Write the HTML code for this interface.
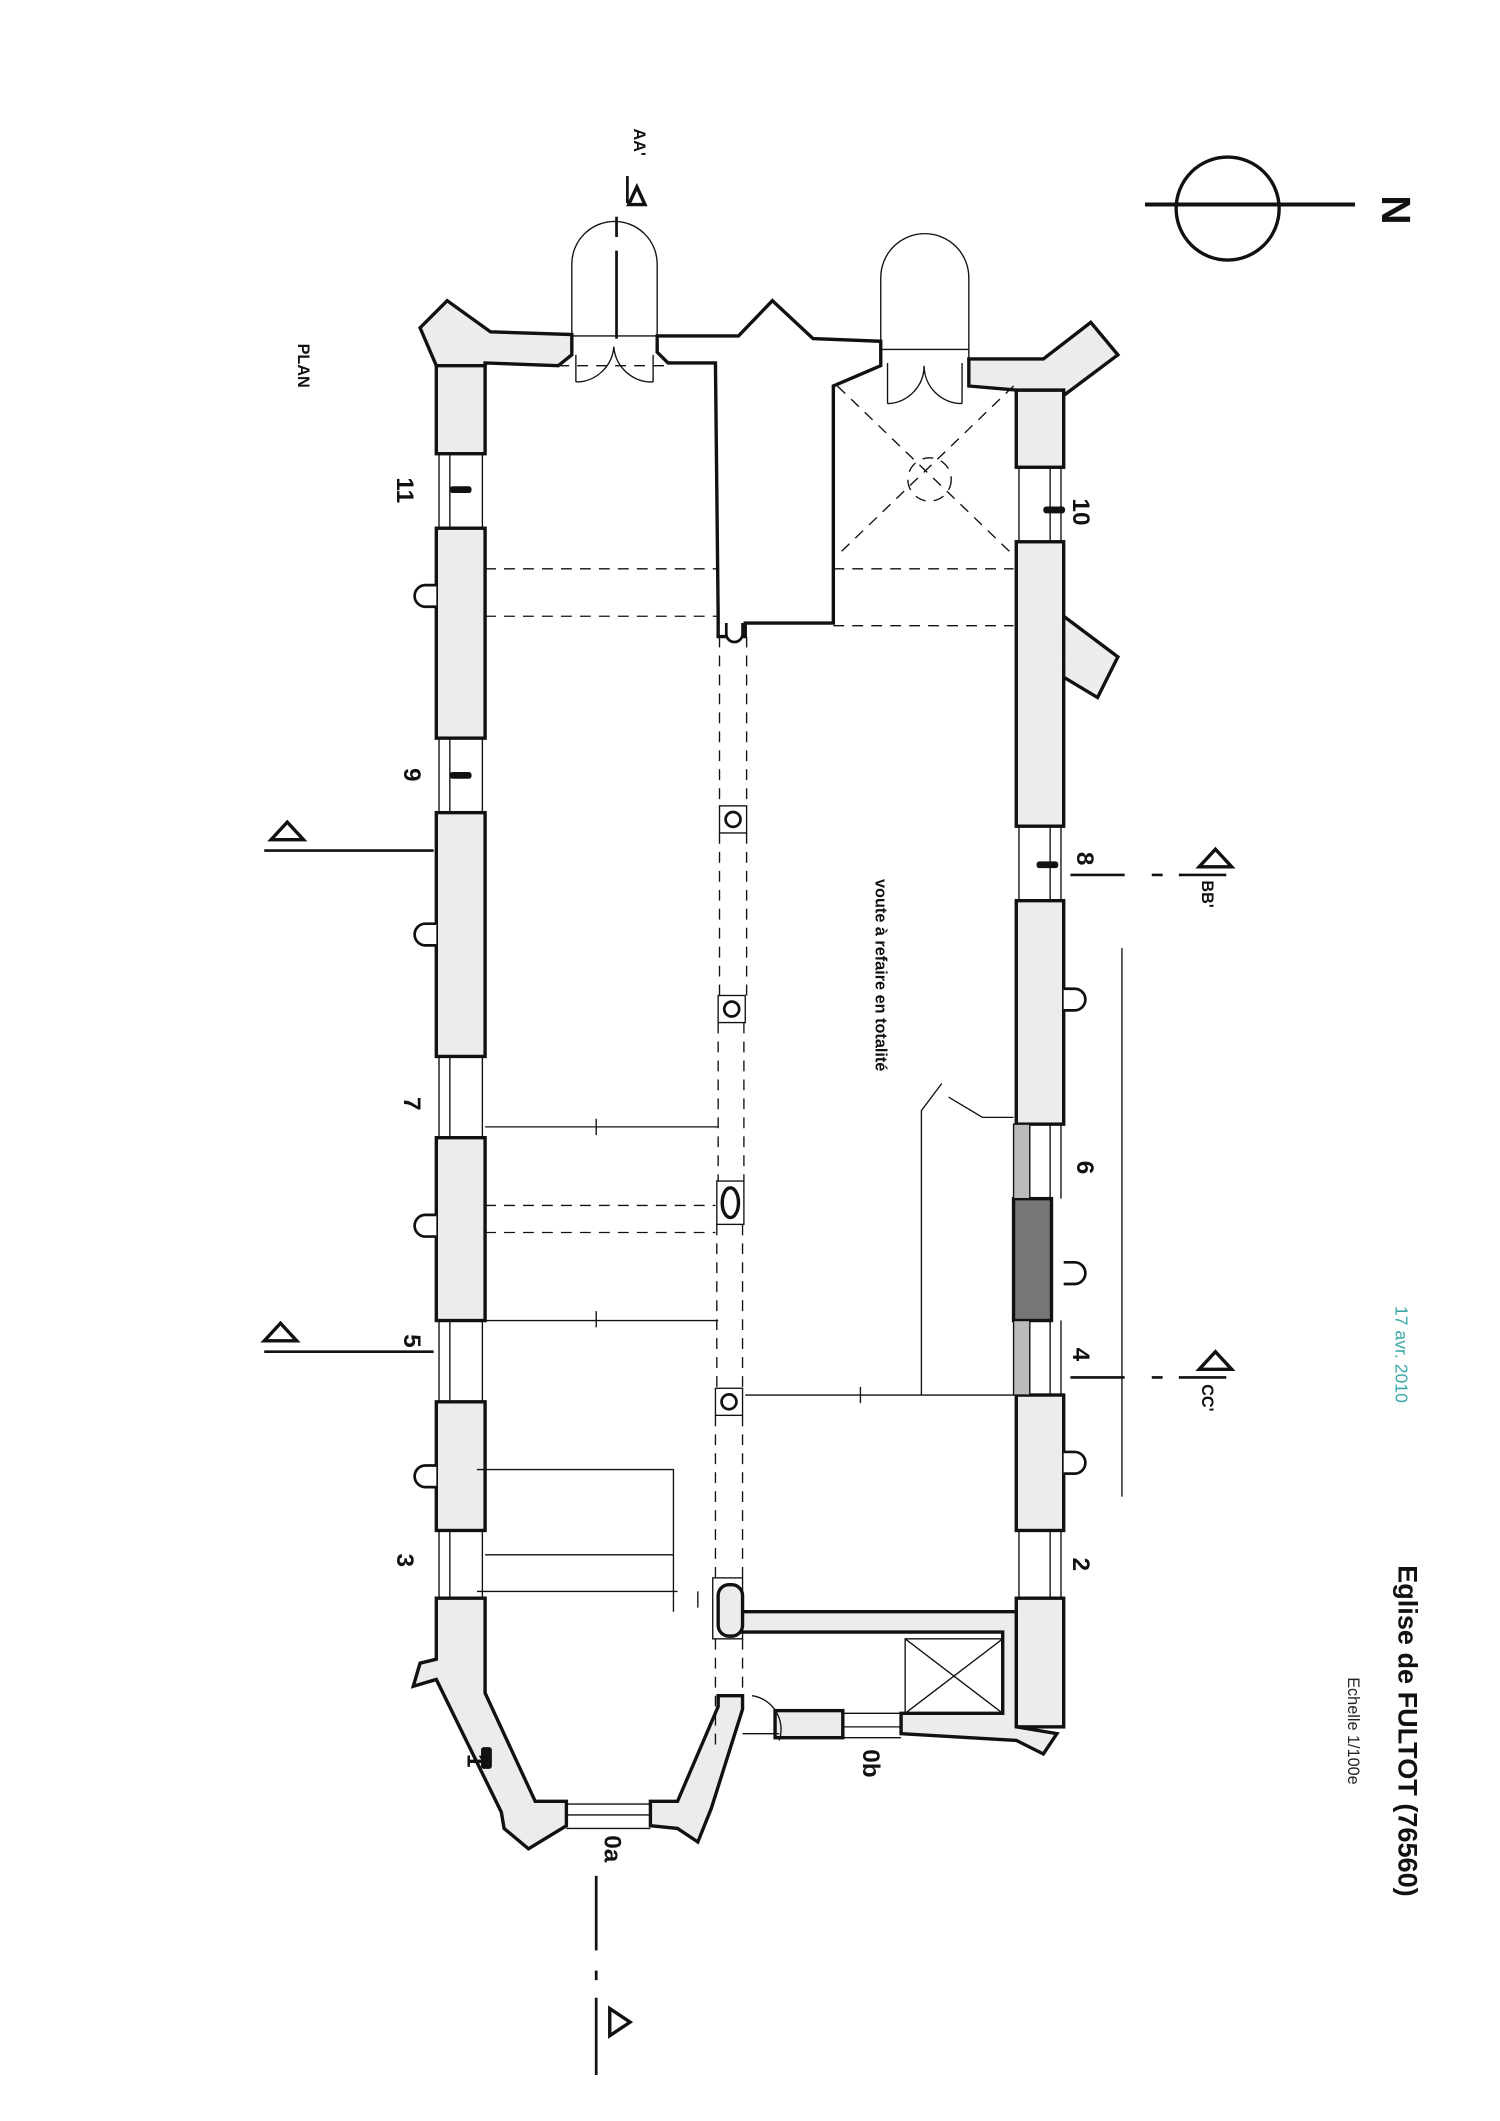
<!DOCTYPE html>
<html><head><meta charset="utf-8"><style>
html,body{margin:0;padding:0;background:#fff;}
svg{display:block;}
text{font-family:"Liberation Sans",sans-serif;}
</style></head><body>
<svg width="1500" height="2121" viewBox="0 0 1107 1566" preserveAspectRatio="none" xmlns="http://www.w3.org/2000/svg">
<rect width="1107" height="1566" fill="#fff"/>
<g stroke="#111" stroke-linejoin="miter" fill="#ececec">
<g stroke-width="2.5">
<rect x="322" y="268" width="36" height="67"/>
<rect x="322" y="390" width="36" height="155"/>
<rect x="322" y="600" width="36" height="180"/>
<rect x="322" y="840" width="36" height="135"/>
<rect x="322" y="1035" width="36" height="95"/>
<rect x="750" y="288" width="35" height="57"/>
<rect x="750" y="400" width="35" height="210"/>
<rect x="750" y="665" width="35" height="165"/>
<rect x="750" y="1030" width="35" height="100"/>
<rect x="750" y="1180" width="35" height="95"/>
<rect x="748" y="885" width="28" height="90" fill="#777"/>
<rect x="748" y="830" width="12" height="55" fill="#bbb" stroke-width="1"/>
<rect x="748" y="975" width="12" height="55" fill="#bbb" stroke-width="1"/>
<polygon points="310,242 330,222 362,245 422,247 422,262 412,270 358,268 358,270 322,270"/>
<polygon points="485,248 545,248 570,222 600,250 650,252 650,270 615,285 615,460 550,460 550,470 530,470 530,455 528,268 493,268 485,260" fill="#fff"/>
<polygon points="715,265 770,265 805,238 825,262 785,292 785,288 750,288 715,285"/>
<polygon points="785,455 825,485 810,515 785,500"/>
<polygon points="545,1190 750,1190 750,1275 780,1280 770,1295 750,1285 665,1280 665,1265 740,1265 740,1205 545,1205"/>
<rect x="572" y="1263" width="50" height="20"/>
<rect x="530" y="1170" width="18" height="38" rx="8"/>
<polygon points="322,1180 358,1180 358,1250 395,1330 418,1330 418,1348 390,1365 372,1350 370,1338 322,1240 305,1245 310,1228 322,1225"/>
<polygon points="480,1330 500,1330 530,1260 530,1252 548,1252 548,1262 525,1335 515,1360 500,1350 480,1348"/>
</g>
<g stroke-width="2" fill="#fff">
<path d="M322,432 h-8 a8,8 0 0 0 0,16 h8"/>
<path d="M322,682 h-8 a8,8 0 0 0 0,16 h8"/>
<path d="M322,897 h-8 a8,8 0 0 0 0,16 h8"/>
<path d="M322,1082 h-8 a8,8 0 0 0 0,16 h8"/>
<path d="M785,730 h8 a8,8 0 0 1 0,16 h-8"/>
<path d="M785,932 h8 a8,8 0 0 1 0,16 h-8"/>
<path d="M785,1072 h8 a8,8 0 0 1 0,16 h-8"/>
<path d="M536,460 v8 a6,6 0 0 0 12,0 v-8"/>
</g>
</g>
<g fill="none" stroke="#111" stroke-width="1">
<path d="M324,335v55M332,335v55M356,335v55M324,545v55M332,545v55M356,545v55M324,780v60M332,780v60M356,780v60M324,975v60M332,975v60M356,975v60M324,1130v50M332,1130v50M356,1130v50"/>
<path d="M783,345v55M775,345v55M752,345v55M783,610v55M775,610v55M752,610v55M783,830v55M775,830v55M783,975v55M775,975v55M783,1130v50M775,1130v50M752,1130v50"/>
<path d="M418,1332H480M418,1340H480M418,1350H480M622,1265H665M622,1275H665M622,1283H665"/>
<path d="M422,248 V195 A31,31 0 0 1 485,195 V248 M422,248 H485"/>
<path d="M650,252 V205 A32,32 0 0 1 715,205 V265 M650,258 H715"/>
<path d="M425,262v20M482,262v20M425,282 A28,28 0 0 0 453,256 A28,28 0 0 0 482,282"/>
<path d="M655,268v30M710,268v30M655,298 A28,28 0 0 0 682,270 A28,28 0 0 0 710,298"/>
<rect x="668" y="1210" width="72" height="55"/>
<path d="M668,1265 L740,1210 M668,1210 L740,1265"/>
<path d="M555,1252 A25,25 0 0 1 575,1285 M548,1280 H575"/>
<path d="M358,832 H530 M358,975 H530 M352,1085 H497 V1190 M352,1175 H500 M358,1148 H497 M550,1030 H748 M680,1030 V820 L695,800 M700,810 L725,825 H748 M828,700 V1105"/>
<path d="M440,826v12 M440,968v12 M635,1024v12 M515,1175v12"/>
<rect x="531" y="595" width="20" height="20"/><circle cx="541" cy="605" r="5.5" stroke-width="2"/>
<rect x="530" y="735" width="20" height="20"/><circle cx="540" cy="745" r="5.5" stroke-width="2"/>
<rect x="529" y="872" width="20" height="32"/><ellipse cx="539" cy="888" rx="6" ry="11" stroke-width="2.5"/>
<rect x="528" y="1025" width="20" height="20"/><circle cx="538" cy="1035" r="5.5" stroke-width="2"/>
<rect x="526" y="1165" width="22" height="45"/>
<g stroke-dasharray="8,6">
<path d="M531,470 V595 M551,470 V595 M531,615 V735 M551,615 V735 M530,755 V872 M549,755 V872 M529,904 V1025 M548,904 V1025 M528,1045 V1165 M548,1045 V1165 M528,1210 V1290 M548,1210 V1250"/>
<path d="M358,420 H530 M615,420 H748 M358,455 H530 M615,462 H748 M358,890 H528 M358,910 H528 M412,270 H493"/>
<path d="M618,285 L748,410 M748,285 L618,410"/>
<circle cx="686" cy="354" r="16"/>
</g>
</g>
<g stroke="#111" stroke-width="2" fill="none">
<path d="M455,160 V175 M455,185 V250"/>
<path d="M440,1385 V1440 M440,1455 V1462 M440,1475 V1532"/>
<path d="M195,628 H320 M195,998 H320 M790,646 H830 M850,646 H858 M870,646 H905 M790,1017 H830 M850,1017 H858 M870,1017 H905"/>
<path d="M463,130 V150"/>
</g>
<g stroke="#111" stroke-width="2.5" fill="#fff">
<polygon points="465,140 478,146 465,152" transform="rotate(-90 470 146)"/>
<polygon points="200,620 212,607 224,620"/>
<polygon points="195,990 207,977 219,990"/>
<polygon points="885,640 897,627 909,640"/>
<polygon points="885,1011 897,998 909,1011"/>
<polygon points="450,1483 450,1503 465,1493"/>
</g>
<circle cx="906" cy="154" r="38" fill="none" stroke="#111" stroke-width="2.5"/>
<path d="M845,151 H1000" stroke="#111" stroke-width="3"/>
<g font-weight="bold" fill="#111">
<text transform="translate(1020,155) rotate(90)" font-size="30" font-family="Liberation Serif" text-anchor="middle">N</text>
<text transform="translate(220,270) rotate(90)" font-size="12" text-anchor="middle">PLAN</text>
<text transform="translate(468,105) rotate(90)" font-size="12" text-anchor="middle">AA'</text>
<text transform="translate(887,650) rotate(90)" font-size="12" text-anchor="start">BB'</text>
<text transform="translate(887,1022) rotate(90)" font-size="12" text-anchor="start">CC'</text>
<text transform="translate(646,720) rotate(90)" font-size="12" text-anchor="middle">voute à refaire en totalité</text>
<text transform="translate(1032,1278) rotate(90)" font-size="20" text-anchor="middle">Eglise de FULTOT (76560)</text>
<g font-size="18" text-anchor="middle">
<text transform="translate(293,362) rotate(90)">11</text>
<text transform="translate(298,572) rotate(90)">9</text>
<text transform="translate(298,815) rotate(90)">7</text>
<text transform="translate(298,990) rotate(90)">5</text>
<text transform="translate(293,1152) rotate(90)">3</text>
<text transform="translate(345,1300) rotate(90)">1</text>
<text transform="translate(446,1365) rotate(90)">0a</text>
<text transform="translate(637,1302) rotate(90)">0b</text>
<text transform="translate(792,1155) rotate(90)">2</text>
<text transform="translate(792,1000) rotate(90)">4</text>
<text transform="translate(795,862) rotate(90)">6</text>
<text transform="translate(795,634) rotate(90)">8</text>
<text transform="translate(792,378) rotate(90)">10</text>
</g>
</g>
<text transform="translate(995,1278) rotate(90)" font-size="12" text-anchor="middle" fill="#222">Echelle 1/100e</text>
<text transform="translate(1030,1000) rotate(90)" font-size="13" text-anchor="middle" fill="#3aa8a8">17 avr. 2010</text>
<g fill="#111">
<rect x="332" y="359" width="16" height="5" rx="2"/>
<rect x="332" y="570" width="16" height="5" rx="2"/>
<rect x="770" y="374" width="16" height="5" rx="2"/>
<rect x="765" y="636" width="16" height="5" rx="2"/>
<rect x="355" y="1290" width="8" height="16" rx="2"/>
</g>
</svg>
</body></html>
